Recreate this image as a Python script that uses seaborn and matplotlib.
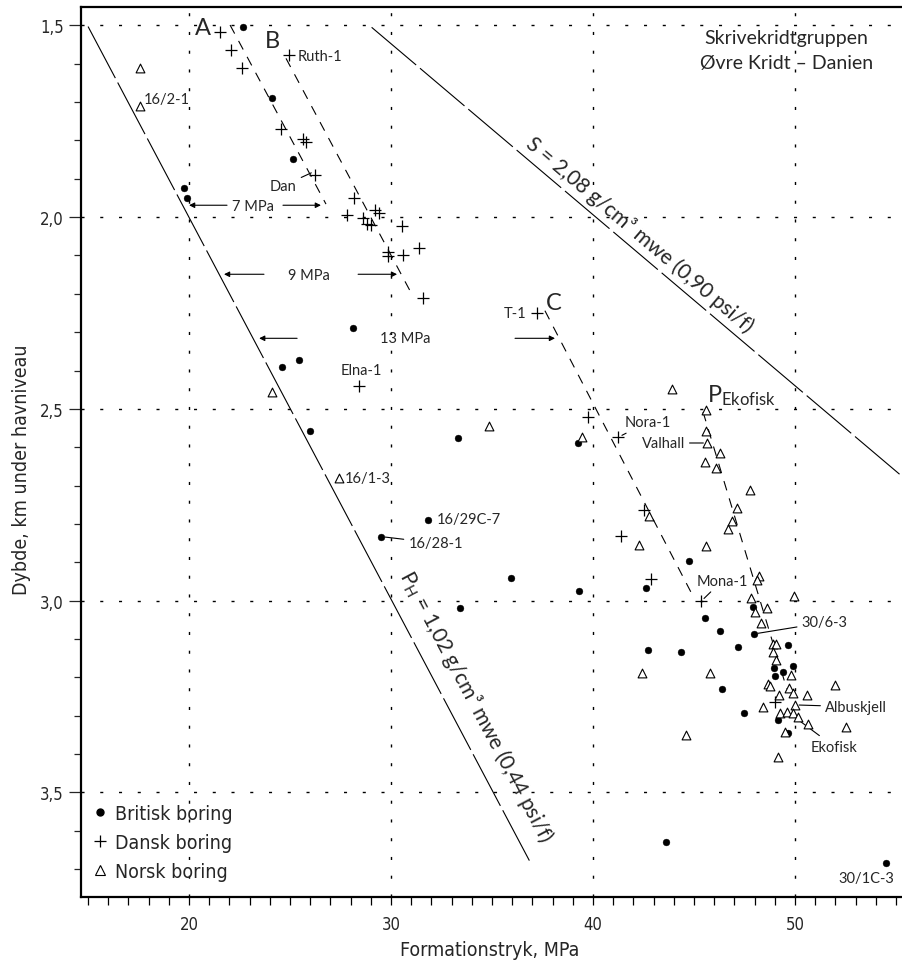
import numpy as np
import pandas as pd
import matplotlib
matplotlib.use("Agg")
import matplotlib.pyplot as plt
import matplotlib.font_manager as fm
from matplotlib.lines import Line2D
from matplotlib.ticker import MultipleLocator, FixedLocator, FuncFormatter
import seaborn as sns

# ---------------- data: formation pressure (MPa) vs depth (km) ----------------
BRIT_P = [22.69, 24.12, 25.16, 19.75, 19.92, 28.10, 25.43, 24.59, 25.99, 33.30,
          39.27, 31.82, 29.50, 35.93, 39.32, 33.42, 44.74, 42.61, 45.54, 46.29,
          47.97, 47.94, 42.71, 44.37, 47.19, 49.67, 49.89, 48.98, 49.43, 49.02,
          46.40, 47.49, 49.17, 49.67, 43.63, 54.52]
BRIT_Z = [1.503, 1.690, 1.849, 1.925, 1.949, 2.290, 2.372, 2.392, 2.557, 2.576,
          2.590, 2.790, 2.833, 2.942, 2.975, 3.020, 2.896, 2.968, 3.046, 3.080,
          3.087, 3.017, 3.128, 3.135, 3.120, 3.115, 3.170, 3.177, 3.185, 3.197,
          3.230, 3.294, 3.312, 3.344, 3.630, 3.683]

DANSK_P = [21.53, 22.06, 22.61, 24.97, 24.54, 25.63, 25.79, 26.24, 28.17, 27.81,
           28.60, 29.21, 29.41, 28.80, 29.01, 30.53, 29.87, 29.87, 30.61, 31.39,
           31.57, 28.40, 37.21, 39.74, 41.25, 42.54, 41.37, 42.86, 45.35, 49.01]
DANSK_Z = [1.518, 1.564, 1.611, 1.578, 1.771, 1.795, 1.805, 1.890, 1.951, 1.995,
           2.001, 1.981, 1.988, 2.018, 2.021, 2.023, 2.092, 2.101, 2.099, 2.080,
           2.210, 2.440, 2.251, 2.522, 2.574, 2.764, 2.831, 2.944, 3.002, 3.264]

NORSK_P = [17.57, 17.57, 24.12, 27.44, 34.87, 39.47, 43.93, 45.59, 45.59, 45.67,
           46.30, 45.56, 46.08, 47.77, 47.11, 46.88, 46.67, 42.79, 42.30, 45.58,
           48.22, 48.10, 49.96, 47.81, 48.02, 48.64, 48.32, 48.90, 49.06, 48.93,
           49.05, 49.78, 42.44, 45.78, 48.67, 48.78, 49.71, 49.89, 49.22, 50.58,
           52.00, 48.40, 50.00, 49.24, 49.63, 49.92, 50.15, 50.65, 52.53, 49.50,
           44.60, 49.16]
NORSK_Z = [1.610, 1.710, 2.457, 2.680, 2.544, 2.574, 2.449, 2.502, 2.557, 2.589,
           2.615, 2.638, 2.655, 2.711, 2.759, 2.793, 2.814, 2.779, 2.855, 2.857,
           2.935, 2.947, 2.989, 2.994, 3.030, 3.018, 3.059, 3.113, 3.113, 3.135,
           3.156, 3.195, 3.189, 3.189, 3.218, 3.222, 3.227, 3.242, 3.245, 3.245,
           3.220, 3.277, 3.272, 3.293, 3.290, 3.293, 3.303, 3.322, 3.329, 3.342,
           3.351, 3.407]

GROUPS = ["Britisk boring", "Dansk boring", "Norsk boring"]

# gradient lines (pressure, depth end points)
HYDRO_P, HYDRO_Z = [15.00, 36.85], [1.503, 3.678]      # 1,02 g/cm3
OVERB_P, OVERB_Z = [29.04, 56.00], [1.505, 2.707]      # 2,08 g/cm3
TREND_A_P, TREND_A_Z = [22.03, 26.78], [1.499, 1.966]
TREND_B_P, TREND_B_Z = [24.80, 30.94], [1.586, 2.192]
TREND_C_P, TREND_C_Z = [37.62, 44.95], [2.244, 2.988]
TREND_EKO_P, TREND_EKO_Z = [45.45, 49.60], [2.508, 3.231]

# overpressure arrows: (label, label P, label z, [(tail P, tip P, z), ...])
OVERPRESSURE = [
    ("7 MPa", 23.19, 1.971, [(21.88, 20.00, 1.969), (24.65, 26.53, 1.969)]),
    ("9 MPa", 25.94, 2.151, [(23.71, 21.73, 2.149), (28.37, 30.30, 2.149)]),
    ("13 MPa", 30.69, 2.315, [(25.35, 23.47, 2.316), (36.14, 38.12, 2.316)]),
]

# well names without leader: (text, P, z, ha)
WELL_LABELS = [
    ("Ruth-1", 25.40, 1.580, "left"),
    ("16/2-1", 17.77, 1.692, "left"),
    ("Elna-1", 28.51, 2.399, "center"),
    ("16/1-3", 27.72, 2.680, "left"),
    ("16/29C-7", 32.26, 2.787, "left"),
    ("T-1", 36.72, 2.251, "right"),
    ("30/1C-3", 53.56, 3.724, "center"),
]
# well names with leader: (text, label P, label z, ha, point P, point z)
LEADER_LABELS = [
    ("Dan", 25.33, 1.918, "right", 26.24, 1.880),
    ("16/28-1", 30.86, 2.850, "left", 29.50, 2.833),
    ("Nora-1", 41.55, 2.535, "left", 41.25, 2.574),
    ("Valhall", 44.55, 2.589, "right", 45.67, 2.589),
    ("Mona-1", 45.13, 2.948, "left", 45.35, 3.002),
    ("30/6-3", 50.33, 3.057, "left", 47.97, 3.087),
    ("Albuskjell", 51.49, 3.277, "left", 50.00, 3.272),
    ("Ekofisk", 50.79, 3.381, "left", 49.63, 3.290),
]
TREND_LETTERS = [("A", 20.67, 1.506), ("B", 24.11, 1.540), ("C", 38.07, 2.222)]

X_MAJOR = [20, 30, 40, 50]
Y_MAJOR = [1.5, 2.0, 2.5, 3.0, 3.5]

# ---------------- style ----------------
sns.set_style("ticks")
names = {f.name for f in fm.fontManager.ttflist}
TEXT_FONT = "Lato" if "Lato" in names else "DejaVu Sans"
AXIS_FONT = next((n for n in ["Liberation Sans Narrow", "DejaVu Sans Condensed"]
                  if n in names), None)
plt.rcParams["font.family"] = [TEXT_FONT, "DejaVu Sans"]
plt.rcParams["mathtext.fontset"] = "custom"
plt.rcParams["mathtext.rm"] = TEXT_FONT
plt.rcParams["mathtext.it"] = TEXT_FONT + ":italic"
plt.rcParams["lines.scale_dashes"] = False
if AXIS_FONT:
    axis_kw = dict(family=[AXIS_FONT, "DejaVu Sans"])
else:
    axis_kw = dict(family=["DejaVu Sans"], stretch="condensed")

fig = plt.figure(figsize=(9.03, 9.62), dpi=100, facecolor="white")
ax = fig.add_axes([0.0897, 0.0665, 0.9103, 0.9252])
ax.set_facecolor("white")
ax.set_xlim(14.65, 55.35)
ax.set_ylim(3.773, 1.452)

# ---------------- data points ----------------
df = pd.concat([
    pd.DataFrame({"P": BRIT_P, "Z": BRIT_Z, "gruppe": GROUPS[0]}),
    pd.DataFrame({"P": DANSK_P, "Z": DANSK_Z, "gruppe": GROUPS[1]}),
    pd.DataFrame({"P": NORSK_P, "Z": NORSK_Z, "gruppe": GROUPS[2]}),
], ignore_index=True)

sns.scatterplot(data=df[df.gruppe == GROUPS[0]], x="P", y="Z", ax=ax, marker="o",
                s=24, color="black", edgecolor="black", linewidth=0.3,
                legend=False, zorder=5)
sns.scatterplot(data=df[df.gruppe == GROUPS[1]], x="P", y="Z", ax=ax, marker="+",
                s=80, color="black", linewidth=0.9, legend=False, zorder=5)
sns.scatterplot(data=df[df.gruppe == GROUPS[2]], x="P", y="Z", ax=ax, marker="^",
                s=40, facecolor="white", edgecolor="black", linewidth=0.8,
                legend=False, zorder=6)

# ---------------- gradient and trend lines ----------------
long_dash = (0, (42, 3.6))
short_dash = (0, (7, 6))
ax.plot(HYDRO_P, HYDRO_Z, color="black", lw=0.8, ls=long_dash, zorder=3)
ax.plot(OVERB_P, OVERB_Z, color="black", lw=0.8, ls=long_dash, zorder=3)
for p, z in [(TREND_A_P, TREND_A_Z), (TREND_B_P, TREND_B_Z),
             (TREND_C_P, TREND_C_Z), (TREND_EKO_P, TREND_EKO_Z)]:
    ax.plot(p, z, color="black", lw=0.8, ls=short_dash, zorder=3)


def screen_angle(p, z):
    a = ax.transData.transform((p[0], z[0]))
    b = ax.transData.transform((p[1], z[1]))
    return np.degrees(np.arctan2(b[1] - a[1], b[0] - a[0]))


ax.text(34.21, 3.275, r"$\mathrm{P}_{\mathrm{H}}$ = 1,02 g/cm³ mwe (0,44 psi/f)",
        rotation=screen_angle(HYDRO_P, HYDRO_Z), rotation_mode="anchor",
        ha="center", va="center", fontsize=15)
ax.text(42.33, 2.044, "S = 2,08 g/cm³ mwe (0,90 psi/f)",
        rotation=screen_angle(OVERB_P, OVERB_Z), rotation_mode="anchor",
        ha="center", va="center", fontsize=15)
ax.text(45.64, 2.480, r"$\mathrm{P}_{\mathrm{Ekofisk}}$", ha="left",
        va="baseline", fontsize=17)

for letter, p, z in TREND_LETTERS:
    ax.text(p, z, letter, ha="center", va="center", fontsize=17)

# ---------------- overpressure arrows ----------------
for label, lp, lz, arrows in OVERPRESSURE:
    ax.text(lp, lz, label, ha="center", va="center", fontsize=10.5)
    for tail, tip, z in arrows:
        ax.annotate("", xy=(tip, z), xytext=(tail, z),
                    arrowprops=dict(arrowstyle="-|>", color="black", lw=0.8,
                                    mutation_scale=8, shrinkA=0, shrinkB=0))

# ---------------- well names ----------------
for text, p, z, ha in WELL_LABELS:
    ax.text(p, z, text, ha=ha, va="center", fontsize=10.5)
for text, lp, lz, ha, pp, pz in LEADER_LABELS:
    ax.annotate(text, xy=(pp, pz), xytext=(lp, lz), ha=ha, va="center",
                fontsize=10.5,
                arrowprops=dict(arrowstyle="-", color="black", lw=0.8,
                                shrinkA=1, shrinkB=3))

ax.text(49.59, 1.531, "Skrivekridtgruppen", ha="center", va="center", fontsize=14)
ax.text(49.59, 1.597, "Øvre Kridt – Danien", ha="center", va="center", fontsize=14)

# ---------------- axes, ticks, grid ----------------
ax.xaxis.set_major_locator(FixedLocator(X_MAJOR))
ax.xaxis.set_minor_locator(MultipleLocator(1))
ax.yaxis.set_major_locator(FixedLocator(Y_MAJOR))
ax.yaxis.set_minor_locator(MultipleLocator(0.1))
ax.yaxis.set_major_formatter(FuncFormatter(lambda v, _: f"{v:.1f}".replace(".", ",")))
ax.xaxis.set_major_formatter(FuncFormatter(lambda v, _: f"{v:.0f}"))
ax.tick_params(axis="x", which="both", direction="out", length=5.8, width=0.9,
               pad=7, labelsize=12, color="black")
ax.tick_params(axis="y", which="major", direction="out", length=8.6, width=0.9,
               pad=3.6, labelsize=12)
ax.tick_params(axis="y", which="minor", direction="out", length=5, width=0.9)
for lab in ax.get_xticklabels() + ax.get_yticklabels():
    lab.set(**axis_kw)

ax.grid(True, which="major", color="black", lw=1.0, ls=(0, (2.2, 11.3)))
ax.set_axisbelow(True)
for side in ["left", "bottom", "top"]:
    ax.spines[side].set_linewidth(1.6)
    ax.spines[side].set_color("black")
ax.spines["right"].set_visible(False)

ax.set_xlabel("Formationstryk, MPa", fontsize=14, va="center", **axis_kw)
ax.xaxis.set_label_coords(0.4976, -0.0584)
ax.set_ylabel("Dybde, km under havniveau", fontsize=14, va="center", **axis_kw)
ax.yaxis.set_label_coords(-0.0718, 0.481)

handles = [
    Line2D([], [], ls="none", marker="o", ms=5, color="black"),
    Line2D([], [], ls="none", marker="+", ms=9, mew=0.9, color="black"),
    Line2D([], [], ls="none", marker="^", ms=6.5, mfc="white", mec="black", mew=0.8),
]
leg = ax.legend(handles, GROUPS, loc="upper left", bbox_to_anchor=(0.0134, 0.1049),
                frameon=False, borderpad=0, borderaxespad=0, handlelength=0.8,
                handletextpad=0.4, labelspacing=0.53,
                prop=dict(size=14, **axis_kw))

fig.savefig("out.png", dpi=100, facecolor="white")
